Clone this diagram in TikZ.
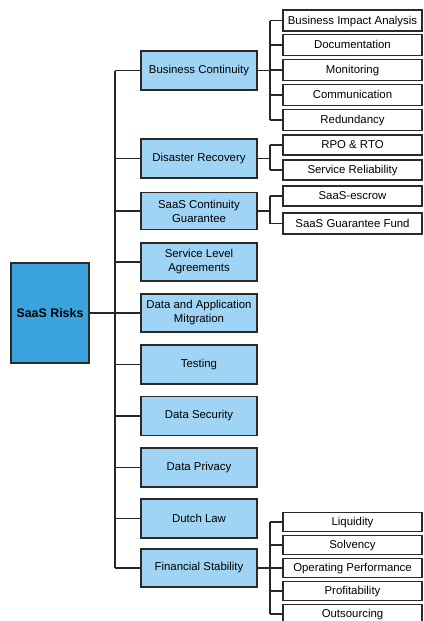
\documentclass[tikz,border=0pt]{standalone}
\usepackage{fontspec}
\setmainfont{Liberation Sans}
\definecolor{rootblue}{HTML}{3AA3DC}
\definecolor{lightblue}{HTML}{9FD4F4}
\definecolor{edge}{HTML}{2A2A2A}
\definecolor{conn}{HTML}{262626}
\begin{document}
\begin{tikzpicture}[x=1pt,y=-1pt,
  rootbox/.style={draw=edge,line width=1.3pt,fill=rootblue,minimum width=78pt,minimum height=100pt,inner sep=0pt,font=\fontsize{12.4}{14}\selectfont\bfseries},
  catbox/.style={draw=edge,line width=1.3pt,fill=lightblue,minimum width=116pt,minimum height=39pt,inner sep=1pt,align=center,font=\fontsize{11.4}{14}\selectfont},
  subbox/.style={draw=edge,line width=1.1pt,fill=white,minimum width=139pt,minimum height=20pt,inner sep=0pt,text height=9pt,text depth=1.2pt,font=\fontsize{11.4}{13}\selectfont},
  link/.style={draw=conn,line width=1.1pt}]
\useasboundingbox (0,0) rectangle (423,621);
\coordinate (trunk) at (115,0);
\coordinate (st) at (270,0);

\node[rootbox] (root) at (50,313) {SaaS Risks};

\node[catbox] (bc) at (199,70.5) {Business Continuity};
\node[catbox] (dr) at (199,158.5) {Disaster Recovery};
\node[catbox,minimum height=37pt] (scg) at (199,211) {SaaS Continuity\\Guarantee};
\node[catbox,minimum height=38pt] (sla) at (199,262) {Service Level\\Agreements};
\node[catbox,minimum height=38pt] (dam) at (199,313) {Data and Application\\Mitgration};
\node[catbox] (tst) at (199,364.5) {Testing};
\node[catbox] (dsec) at (199,416) {Data Security};
\node[catbox] (dpr) at (199,467.5) {Data Privacy};
\node[catbox] (dl) at (199,518.5) {Dutch Law};
\node[catbox,minimum height=38pt] (fs) at (199,568) {Financial Stability};

\node[subbox,minimum height=21pt] (bia) at (352.5,20.5) {Business Impact Analysis};
\node[subbox,minimum height=21pt] (doc) at (352.5,45) {Documentation};
\node[subbox,minimum height=21pt] (mon) at (352.5,70) {Monitoring};
\node[subbox,minimum height=21pt] (com) at (352.5,95) {Communication};
\node[subbox,minimum height=21pt] (red) at (352.5,120) {Redundancy};

\node[subbox] (rpo) at (352.5,145) {RPO \& RTO};
\node[subbox] (srel) at (352.5,170) {Service Reliability};

\node[subbox] (esc) at (352.5,196) {SaaS-escrow};
\node[subbox,minimum height=21pt] (sgf) at (352.5,223.5) {SaaS Guarantee Fund};

\node[subbox,minimum height=19pt] (liq) at (352.5,522) {Liquidity};
\node[subbox,minimum height=19pt] (sol) at (352.5,545) {Solvency};
\node[subbox,minimum height=19pt] (opp) at (352.5,568) {Operating Performance};
\node[subbox,minimum height=19pt] (prof) at (352.5,591) {Profitability};
\node[subbox,minimum height=19pt] (outs) at (352.5,614) {Outsourcing};

% main trunk
\draw[link] (root.east) -- (root.east -| trunk);
\draw[link] (trunk |- bc.west) -- (trunk |- fs.west);
\foreach \n in {bc,dr,scg,sla,dam,tst,dsec,dpr,dl,fs}
  \draw[link] (\n.west) -- (\n.west -| trunk);

% business continuity
\draw[link] (bc.east) -- (bc.east -| st);
\draw[link] (st |- bia.west) -- (st |- red.west);
\foreach \n in {bia,doc,mon,com,red}
  \draw[link] (\n.west) -- (\n.west -| st);

% disaster recovery
\draw[link] (dr.east) -- (dr.east -| st);
\draw[link] (st |- rpo.west) -- (st |- srel.west);
\foreach \n in {rpo,srel}
  \draw[link] (\n.west) -- (\n.west -| st);

% saas continuity guarantee
\draw[link] (scg.east) -- (scg.east -| st);
\draw[link] (st |- esc.west) -- (st |- sgf.west);
\foreach \n in {esc,sgf}
  \draw[link] (\n.west) -- (\n.west -| st);

% financial stability
\draw[link] (fs.east) -- (fs.east -| st);
\draw[link] (st |- liq.west) -- (st |- outs.west);
\foreach \n in {liq,sol,opp,prof,outs}
  \draw[link] (\n.west) -- (\n.west -| st);
\end{tikzpicture}
\end{document}
